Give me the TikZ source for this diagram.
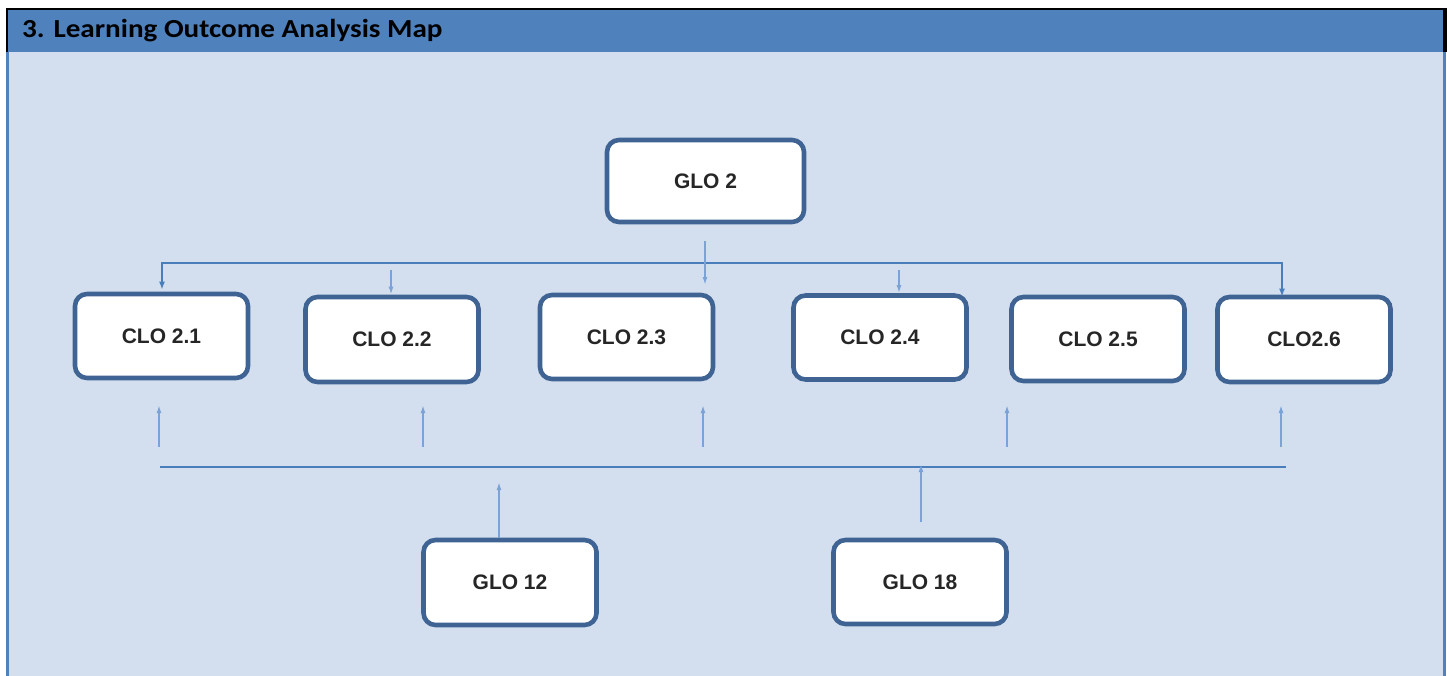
\documentclass[tikz,border=0pt]{standalone}
\usepackage{fontspec}
\setmainfont{Liberation Sans}
\newfontfamily\titlefont{Carlito}
\usetikzlibrary{arrows.meta}
\definecolor{hdr}{HTML}{4F81BD}
\definecolor{panel}{HTML}{D3DFEE}
\definecolor{boxc}{HTML}{3F6494}
\definecolor{linec}{HTML}{4A7EBB}
\definecolor{arrc}{HTML}{7BA3D8}
\tikzset{
  x=1pt, y=-1pt,
  outbox/.style={draw=boxc, line width=4.6pt, rounded corners=12pt, fill=white,
    minimum width=173pt, minimum height=84pt, inner sep=0pt,
    font=\fontsize{21}{24}\selectfont\bfseries, text=black!85},
  hline/.style={draw=linec, line width=2.6pt},
  conn/.style={draw=arrc, line width=1.8pt, -{Latex[length=8pt,width=5pt]}},
  topconn/.style={draw=linec, line width=2pt, {Latex[length=8pt,width=6pt]}-{Latex[length=8pt,width=6pt]}},
}
\begin{document}
\begin{tikzpicture}
\useasboundingbox (0,0) rectangle (1447,676);
% frame
\fill[panel] (8,52) rectangle (1443,676);
\fill[hdr] (8,10) rectangle (1443,52);
\fill[hdr] (6,52) rectangle (8.7,676);
\fill[hdr] (1443,52) rectangle (1446,676);
\fill[black] (6,8) rectangle (1447,10.5);
\fill[black] (6,8) rectangle (8,52);
\fill[black] (1443,8) rectangle (1447,52);
\node[anchor=base west, inner sep=0pt, xscale=1.12, font=\titlefont\fontsize{26}{30}\selectfont\bfseries] (title) at (22,38) {3. Learning Outcome Analysis Map};

% boxes
\node[outbox, minimum width=197pt, minimum height=82pt] (glo2) at (705.5,181) {GLO 2};
\node[outbox, minimum height=84pt] (clo21) at (161.5,336) {CLO 2.1};
\node[outbox, minimum height=85pt] (clo22) at (392,339.5) {CLO 2.2};
\node[outbox] (clo23) at (626.5,337) {CLO 2.3};
\node[outbox] (clo24) at (880,337.5) {CLO 2.4};
\node[outbox] (clo25) at (1098,339) {CLO 2.5};
\node[outbox, minimum height=85pt] (clo26) at (1304,339.5) {CLO2.6};
\node[outbox, minimum height=85pt] (glo12) at (510,582.5) {GLO 12};
\node[outbox] (glo18) at (920,582) {GLO 18};

% top connector
\coordinate (tl) at (162,263);
\coordinate (tr) at (1282,263);
\draw[topconn] (tl |- clo21.north) ++(0,-2) |- (tr) -- ([yshift=-2pt]tr |- clo26.north);
\coordinate (g2s) at (705,241);
\coordinate (g2e) at (705,285);
\draw[conn] (g2s) -- (g2e);
\coordinate (c22s) at (391,270);
\draw[conn] (c22s) -- (c22s |- clo22.north);
\coordinate (c24s) at (899,270);
\draw[conn] (c24s) -- (c24s |- clo24.north);

% bottom arrows
\foreach \n/\x in {a/159,b/423,c/703,d/1007,e/1281}{
  \coordinate (u\n s) at (\x,447);
  \coordinate (u\n e) at (\x,405);
  \draw[conn] (u\n s) -- (u\n e);
}
\coordinate (bl) at (160,467);
\coordinate (br) at (1286,467);
\draw[hline] (bl) -- (br);
\coordinate (g12e) at (499,482);
\draw[conn] (g12e |- glo12.north) -- (g12e);
\coordinate (g18s) at (921,522);
\coordinate (g18e) at (921,464);
\draw[conn] (g18s) -- (g18e);
\end{tikzpicture}
\end{document}
